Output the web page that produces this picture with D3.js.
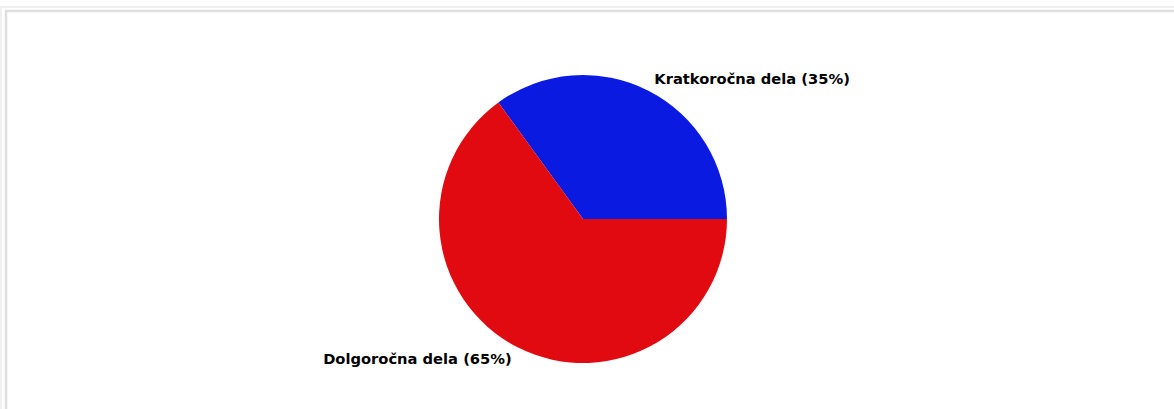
<!DOCTYPE html>
<html>
<head>
<meta charset="utf-8">
<script src="https://cdn.jsdelivr.net/npm/d3@7"></script>
<style>
  html, body { margin: 0; padding: 0; background: #fff; }
  svg { display: block; }
</style>
</head>
<body>
<svg id="chart" width="1174" height="409"></svg>
<script>
// Share of works by term
const categories = ["Kratkoročna dela", "Dolgoročna dela"];
const shares = [35, 65];
const colors = ["#0a1ae0", "#e00a10"];

const svg = d3.select("#chart");
const W = 1174, H = 409;

// panel frame
svg.append("rect")
  .attr("x", 1).attr("y", 7).attr("width", W + 10).attr("height", H + 10)
  .attr("fill", "none").attr("stroke", "#f0f0f0").attr("stroke-width", 2);
svg.append("rect")
  .attr("x", 6).attr("y", 11).attr("width", W + 10).attr("height", H + 10)
  .attr("fill", "#fff").attr("stroke", "#dedede").attr("stroke-width", 2.5);

const cx = 583, cy = 219, R = 144;

// slices run counterclockwise from 3 o'clock
const pie = d3.pie()
  .sort(null)
  .value(d => d.value)
  .startAngle(Math.PI / 2)
  .endAngle(Math.PI / 2 - 2 * Math.PI);

const data = categories.map((c, i) => ({ name: c, value: shares[i], color: colors[i] }));
const arcs = pie(data);

const arc = d3.arc().innerRadius(0).outerRadius(R);
const labelArc = d3.arc().innerRadius(157).outerRadius(157);

const g = svg.append("g").attr("transform", `translate(${cx},${cy})`);

g.selectAll("path.slice")
  .data(arcs)
  .join("path")
  .attr("class", "slice")
  .attr("d", arc)
  .attr("fill", d => d.data.color);

g.selectAll("text.lbl")
  .data(arcs)
  .join("text")
  .attr("class", "lbl")
  .attr("transform", d => `translate(${labelArc.centroid(d)})`)
  .attr("dy", "0.32em")
  .attr("text-anchor", d => labelArc.centroid(d)[0] >= 0 ? "start" : "end")
  .attr("font-family", "'DejaVu Sans', Verdana, sans-serif")
  .attr("font-weight", "bold")
  .attr("font-size", 14.7)
  .attr("fill", "#000")
  .text(d => `${d.data.name} (${d.data.value}%)`);
</script>
</body>
</html>
